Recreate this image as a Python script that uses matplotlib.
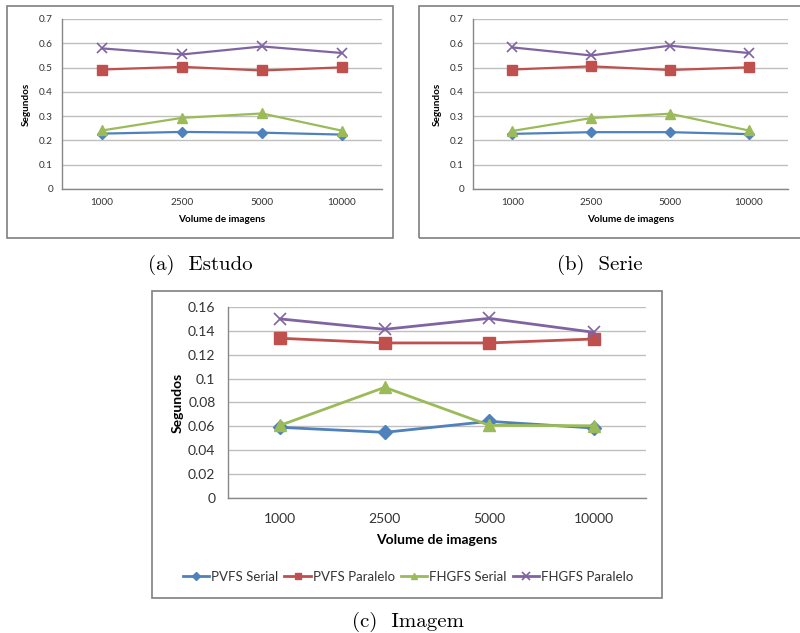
import matplotlib
matplotlib.use("Agg")
import matplotlib.pyplot as plt
from matplotlib.patches import Rectangle

W, H = 800, 633

volumes = ["1000", "2500", "5000", "10000"]
series_names = ["PVFS Serial", "PVFS Paralelo", "FHGFS Serial", "FHGFS Paralelo"]

estudo_pvfs_serial = [0.228, 0.235, 0.232, 0.224]
estudo_pvfs_paralelo = [0.492, 0.503, 0.488, 0.501]
estudo_fhgfs_serial = [0.241, 0.293, 0.311, 0.240]
estudo_fhgfs_paralelo = [0.579, 0.554, 0.587, 0.560]

serie_pvfs_serial = [0.227, 0.234, 0.234, 0.226]
serie_pvfs_paralelo = [0.492, 0.505, 0.490, 0.501]
serie_fhgfs_serial = [0.239, 0.292, 0.310, 0.241]
serie_fhgfs_paralelo = [0.583, 0.550, 0.590, 0.560]

imagem_pvfs_serial = [0.0592, 0.0550, 0.0642, 0.0586]
imagem_pvfs_paralelo = [0.1338, 0.1299, 0.1299, 0.1332]
imagem_fhgfs_serial = [0.0609, 0.0927, 0.0609, 0.0605]
imagem_fhgfs_paralelo = [0.1500, 0.1413, 0.1505, 0.1388]

yticks_small = [0, 0.1, 0.2, 0.3, 0.4, 0.5, 0.6, 0.7]
yticks_big = [0, 0.02, 0.04, 0.06, 0.08, 0.1, 0.12, 0.14, 0.16]

colors = ["#4F81BD", "#C0504D", "#9BBB59", "#8064A2"]
markers = ["D", "s", "^", "x"]

FONT = "Lato"
CAP_FONT = "cmr10"

fig = plt.figure(figsize=(W / 100, H / 100), dpi=100)


def rect(x0, y0, x1, y1):
    return [x0 / W, 1 - y1 / H, (x1 - x0) / W, (y1 - y0) / H]


def frame(x0, y0, x1, y1):
    fig.patches.append(Rectangle((x0 / W, 1 - y1 / H), (x1 - x0) / W, (y1 - y0) / H,
                                 transform=fig.transFigure, fill=False,
                                 edgecolor="#7f7f7f", linewidth=1.2))


def panel(box, data, yticks, ymax, fs, msz, lw, ylab_pad, xtick_pad, xlab_pad):
    ax = fig.add_axes(rect(*box))
    x = list(range(len(volumes)))
    for vals, c, m in zip(data, colors, markers):
        if m == "x":
            ax.plot(x, vals, color=c, lw=lw, marker=m, ms=msz * 1.15, mew=1.2,
                    clip_on=False, zorder=3)
        else:
            ax.plot(x, vals, color=c, lw=lw, marker=m,
                    ms=msz * (0.85 if m == "D" else 1.0),
                    mfc=c, mec=c, clip_on=False, zorder=3)
    ax.set_xlim(-0.5, len(volumes) - 0.5)
    ax.set_ylim(0, ymax)
    ax.set_yticks(yticks)
    ax.set_yticklabels([("%g" % t) for t in yticks], fontfamily=FONT, fontsize=fs, color="#333333")
    ax.set_xticks(x)
    ax.set_xticklabels(volumes, fontfamily=FONT, fontsize=fs, color="#333333")
    ax.tick_params(length=0, pad=fs * 0.9)
    ax.tick_params(axis="x", pad=xtick_pad)
    ax.yaxis.grid(True, color="#BFBFBF", lw=1.0)
    ax.set_axisbelow(True)
    for s in ["top", "right"]:
        ax.spines[s].set_visible(False)
    for s in ["left", "bottom"]:
        ax.spines[s].set_color("#888888")
        ax.spines[s].set_linewidth(1.0)
    ax.set_ylabel("Segundos", fontfamily=FONT, fontsize=fs, fontweight="bold", labelpad=ylab_pad)
    ax.set_xlabel("Volume de imagens", fontfamily=FONT, fontsize=fs, fontweight="bold", labelpad=xlab_pad)
    return ax


# (a) Estudo
frame(7, 6, 393, 238)
panel((62, 19, 382, 189),
      [estudo_pvfs_serial, estudo_pvfs_paralelo, estudo_fhgfs_serial, estudo_fhgfs_paralelo],
      yticks_small, 0.7, 7.2, 6.5, 1.6, 6, 6.5, 6)
fig.text(200 / W, 1 - 265 / H, "(a)  Estudo", fontfamily=CAP_FONT, fontsize=15,
         ha="center", va="center")

# (b) Serie
frame(419, 6, 802, 238)
panel((473, 19, 788, 189),
      [serie_pvfs_serial, serie_pvfs_paralelo, serie_fhgfs_serial, serie_fhgfs_paralelo],
      yticks_small, 0.7, 7.2, 6.5, 1.6, 6, 6.5, 6)
fig.text(600 / W, 1 - 265 / H, "(b)  Serie", fontfamily=CAP_FONT, fontsize=15,
         ha="center", va="center")

# (c) Imagem
frame(152, 291, 662, 598)
axc = panel((228, 307, 646, 498),
            [imagem_pvfs_serial, imagem_pvfs_paralelo, imagem_fhgfs_serial, imagem_fhgfs_paralelo],
            yticks_big, 0.16, 10.0, 8.0, 2.0, 3, 11, 6)
handles = axc.get_lines()
leg = fig.legend(handles, series_names, loc="center", bbox_to_anchor=(408 / W, 1 - 577 / H),
                 ncol=4, frameon=False, prop={"family": FONT, "size": 9.5},
                 handlelength=2.0, handletextpad=0.15, columnspacing=0.45, markerscale=0.6)
for t in leg.get_texts():
    t.set_color("#333333")
fig.text(408 / W, 1 - 622 / H, "(c)  Imagem", fontfamily=CAP_FONT, fontsize=15,
         ha="center", va="center")

fig.savefig("out.png", dpi=100)
